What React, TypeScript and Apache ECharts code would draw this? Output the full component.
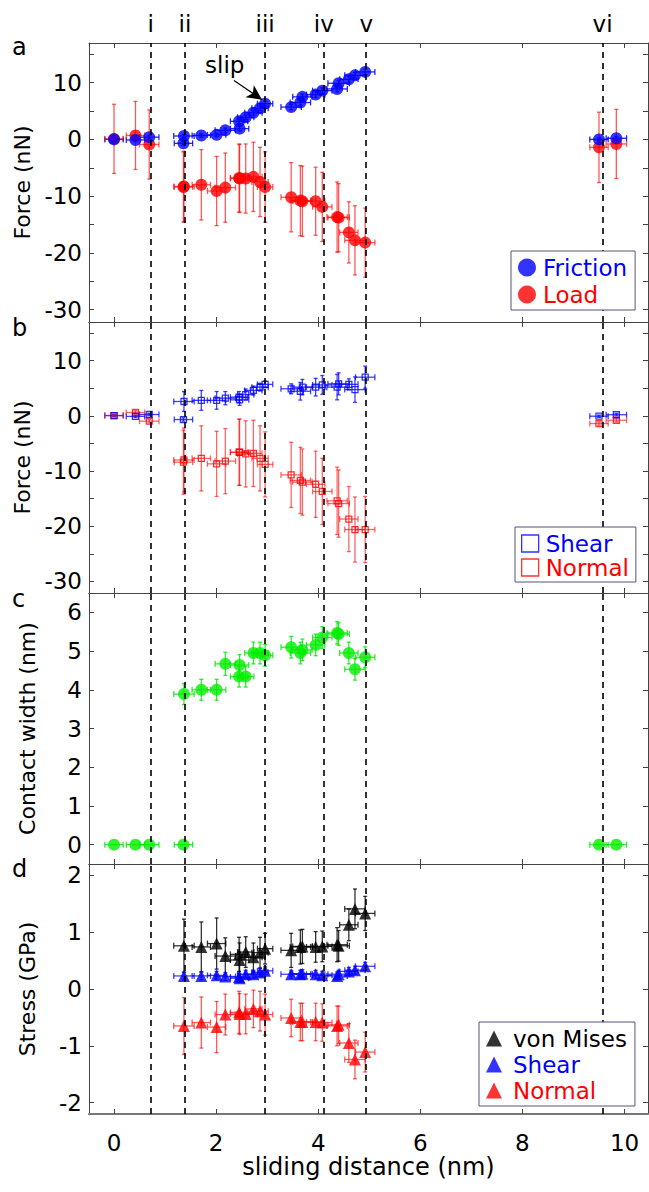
import React, { useEffect, useRef } from 'react';
import * as echarts from 'echarts';

// ---------------- data ----------------
const distance = [0, 0.42, 0.69, 1.36, 1.37, 1.71, 2.01, 2.18, 2.45, 2.46, 2.58, 2.73, 2.86, 2.96, 3.47, 3.65, 3.69, 3.95, 4.08, 4.37, 4.40, 4.60, 4.72, 4.92, 9.50, 9.84];
const distanceErr = [0.18, 0.18, 0.19, 0.18, 0.2, 0.18, 0.18, 0.2, 0.17, 0.18, 0.16, 0.17, 0.16, 0.15, 0.2, 0.2, 0.19, 0.18, 0.19, 0.2, 0.21, 0.18, 0.2, 0.19, 0.18, 0.2];

const friction = [0, -0.1, 0.4, -0.7, 0.6, 0.7, 0.8, 1.6, 3.2, 1.9, 3.9, 4.7, 5.5, 6.3, 5.7, 6.5, 7.5, 7.9, 8.6, 8.9, 9.9, 10.6, 11.3, 11.9, 0, 0.2];
const frictionErr = [0.3, 0.3, 0.3, 0.3, 0.3, 0.3, 0.3, 0.4, 0.4, 0.4, 0.4, 0.4, 0.4, 0.4, 0.5, 0.5, 0.5, 0.5, 0.5, 0.5, 0.5, 0.5, 0.5, 0.5, 0.3, 0.3];
const load = [0.1, 0.7, -0.9, -8.4, -8.3, -8.0, -9.1, -8.5, -6.8, -6.9, -6.9, -6.6, -7.5, -8.4, -10.2, -10.8, -10.9, -10.9, -11.9, -13.7, -13.8, -16.4, -17.8, -18.2, -1.4, -0.8];
const loadErr = [6.1, 6.0, 6.1, 6.2, 6.2, 6.2, 6.1, 6.1, 6.0, 6.0, 6.1, 6.1, 6.1, 6.2, 6.1, 6.2, 6.2, 6.0, 6.1, 6.2, 6.0, 5.4, 6.1, 6.1, 6.2, 6.1];

const shearForce = [0.05, -0.1, 0.24, -0.67, 2.6, 2.8, 2.8, 3.2, 3.4, 2.9, 3.85, 4.6, 5.2, 5.7, 4.9, 4.45, 5.2, 5.2, 5.6, 5.2, 5.8, 5.7, 4.75, 7.0, -0.07, 0.2];
const shearForceErr = [0.2, 0.2, 0.2, 0.3, 1.8, 1.8, 1.6, 1.2, 1.0, 1.0, 1.0, 0.8, 0.7, 0.6, 0.9, 1.6, 1.4, 1.6, 1.7, 2.3, 2.0, 1.0, 2.3, 2.0, 0.2, 0.2];
const normalForce = [0.05, 0.6, -0.97, -8.4, -8.0, -7.7, -8.7, -8.2, -6.6, -6.6, -6.9, -6.8, -7.7, -8.8, -10.7, -11.7, -12.0, -12.4, -13.7, -15.4, -15.9, -18.7, -20.6, -20.6, -1.4, -0.8];
const normalForceErr = [0.3, 0.3, 0.3, 5.8, 5.8, 5.9, 5.9, 5.9, 6.0, 6.0, 6.0, 6.0, 5.9, 5.9, 5.9, 6.0, 6.0, 6.0, 6.0, 6.1, 6.1, 5.9, 5.9, 6.0, 0.3, 0.3];

const contactWidth = [0, 0, 0, 0, 3.89, 4.0, 4.0, 4.67, 4.34, 4.64, 4.34, 4.95, 4.95, 4.89, 5.10, 4.95, 5.03, 5.16, 5.35, 5.47, 5.44, 4.95, 4.53, 4.84, 0, 0];
const contactWidthErr = [0, 0, 0, 0, 0.27, 0.27, 0.27, 0.3, 0.27, 0.27, 0.27, 0.28, 0.28, 0.28, 0.28, 0.28, 0.28, 0.28, 0.28, 0.29, 0.29, 0.28, 0.28, 0.27, 0, 0];

const stressDistance = [1.37, 1.71, 2.01, 2.18, 2.45, 2.46, 2.58, 2.73, 2.86, 2.96, 3.47, 3.65, 3.69, 3.95, 4.08, 4.37, 4.40, 4.60, 4.72, 4.92];
const stressDistanceErr = [0.2, 0.18, 0.18, 0.2, 0.17, 0.18, 0.16, 0.17, 0.16, 0.15, 0.2, 0.2, 0.19, 0.18, 0.19, 0.2, 0.21, 0.18, 0.2, 0.19];
const vonMises = [0.76, 0.74, 0.80, 0.58, 0.61, 0.51, 0.65, 0.56, 0.64, 0.71, 0.68, 0.74, 0.75, 0.74, 0.75, 0.78, 0.76, 1.13, 1.41, 1.33];
const vonMisesErr = [0.47, 0.44, 0.45, 0.32, 0.3, 0.3, 0.27, 0.25, 0.27, 0.27, 0.3, 0.3, 0.3, 0.27, 0.27, 0.3, 0.27, 0.28, 0.35, 0.3];
const shearStress = [0.23, 0.23, 0.24, 0.22, 0.21, 0.19, 0.26, 0.26, 0.29, 0.32, 0.26, 0.26, 0.27, 0.26, 0.24, 0.23, 0.26, 0.31, 0.33, 0.40];
const shearStressErr = [0.07, 0.07, 0.07, 0.07, 0.07, 0.07, 0.07, 0.07, 0.07, 0.07, 0.07, 0.07, 0.07, 0.07, 0.07, 0.07, 0.07, 0.07, 0.07, 0.07];
const normalStress = [-0.65, -0.59, -0.67, -0.45, -0.41, -0.44, -0.44, -0.35, -0.39, -0.45, -0.51, -0.58, -0.58, -0.58, -0.59, -0.65, -0.63, -0.95, -1.24, -1.11];
const normalStressErr = [0.5, 0.45, 0.45, 0.36, 0.37, 0.36, 0.35, 0.33, 0.35, 0.36, 0.33, 0.33, 0.33, 0.33, 0.33, 0.35, 0.33, 0.34, 0.34, 0.35];

const eventX = [0.72, 1.39, 2.96, 4.11, 4.94, 9.57];
const eventLabels = ['i', 'ii', 'iii', 'iv', 'v', 'vi'];
const slipArrow = [[2.35, 10.4], [2.9, 7.0]];
const slipText = [2.17, 13.1];

const xTicks = [0, 2, 4, 6, 8, 10];
const forceTicks = [-30, -25, -20, -15, -10, -5, 0, 5, 10, 15];
const forceLabels = [-30, -20, -10, 0, 10];
const widthTicks = [0, 1, 2, 3, 4, 5, 6];
const stressTicks = [-2, -1, 0, 1, 2];

// ---------------- layout ----------------
const FONT = 'DejaVu Sans';
const X_MIN = -0.49;
const X_MAX = 10.46;
const GRID_LEFT = 89;
const GRID_WIDTH = 559;
const panels = [
  { top: 43, height: 279, min: -32.2, max: 17, ticks: forceTicks, labels: forceLabels, name: 'Force (nN)', letter: 'a', letterTop: 35 },
  { top: 322, height: 271, min: -32.1, max: 17, ticks: forceTicks, labels: forceLabels, name: 'Force (nN)', letter: 'b', letterTop: 316 },
  { top: 593, height: 271, min: -0.5, max: 6.5, ticks: widthTicks, labels: widthTicks, name: 'Contact width (nm)', letter: 'c', letterTop: 587 },
  { top: 864, height: 250, min: -2.2, max: 2.2, ticks: stressTicks, labels: stressTicks, name: 'Stress (GPa)', letter: 'd', letterTop: 857 },
];

const BLUE = '#0000ff';
const RED = '#ff0000';
const GREEN = '#00ee00';
const BLACK = '#000000';
const AXIS = '#444444';

function errorSeries(xs, ys, xe, ye, gi, color) {
  return {
    type: 'custom',
    xAxisIndex: gi * 2,
    yAxisIndex: gi * 2,
    z: 1,
    silent: true,
    clip: true,
    encode: { x: 0, y: 1 },
    data: xs.map((x, k) => [x, ys[k], xe[k], ye[k]]),
    renderItem: (params, api) => {
      const x = api.value(0);
      const y = api.value(1);
      const dx = api.value(2);
      const dy = api.value(3);
      const style = { stroke: color, lineWidth: 1.3 };
      const children = [];
      const cap = 3;
      if (dx > 0) {
        const l = api.coord([x - dx, y]);
        const r = api.coord([x + dx, y]);
        children.push({ type: 'line', shape: { x1: l[0], y1: l[1], x2: r[0], y2: r[1] }, style });
        children.push({ type: 'line', shape: { x1: l[0], y1: l[1] - cap, x2: l[0], y2: l[1] + cap }, style });
        children.push({ type: 'line', shape: { x1: r[0], y1: r[1] - cap, x2: r[0], y2: r[1] + cap }, style });
      }
      if (dy > 0) {
        const t = api.coord([x, y + dy]);
        const b = api.coord([x, y - dy]);
        children.push({ type: 'line', shape: { x1: t[0], y1: t[1], x2: b[0], y2: b[1] }, style });
        children.push({ type: 'line', shape: { x1: t[0] - 2, y1: t[1], x2: t[0] + 2, y2: t[1] }, style });
        children.push({ type: 'line', shape: { x1: b[0] - 2, y1: b[1], x2: b[0] + 2, y2: b[1] }, style });
      }
      return { type: 'group', children };
    },
  };
}

function eventLines(withLabels, extra) {
  const data: any[] = eventX.map((x, k) => ({ xAxis: x, name: eventLabels[k] }));
  if (extra) data.push(...extra);
  return {
    silent: true,
    symbol: ['none', 'none'],
    lineStyle: { type: [6, 5], color: BLACK, width: 1.6, opacity: 1 },
    label: {
      show: withLabels,
      position: 'end',
      formatter: (p) => p.name,
      fontSize: 23,
      fontFamily: FONT,
      color: BLACK,
      distance: 8,
    },
    emphasis: { disabled: true },
    data,
  };
}

function scatterSeries(name, xs, ys, gi, symbol, size, itemStyle, extra?) {
  return Object.assign(
    {
      name,
      type: 'scatter',
      xAxisIndex: gi * 2,
      yAxisIndex: gi * 2,
      symbol,
      symbolSize: size,
      itemStyle,
      z: 3,
      emphasis: { disabled: true },
      data: xs.map((x, k) => [x, ys[k]]),
    },
    extra || {}
  );
}

function buildOption() {
  const xAxis: any[] = [];
  const yAxis: any[] = [];
  panels.forEach((p, i) => {
    const last = i === panels.length - 1;
    const xCommon = {
      type: 'value',
      gridIndex: i,
      min: X_MIN,
      max: X_MAX,
      splitLine: { show: false },
      axisLine: { show: true, onZero: false, lineStyle: { color: AXIS, width: 1 } },
      axisTick: { show: true, inside: true, length: 5, lineStyle: { color: AXIS, width: 1 }, customValues: xTicks },
      axisLabel: { show: false, customValues: xTicks },
    };
    xAxis.push(
      Object.assign({}, xCommon, {
        position: 'bottom',
        axisLine: last
          ? { show: true, onZero: false, lineStyle: { color: '#777777', width: 2 } }
          : xCommon.axisLine,
        axisLabel: last
          ? { show: true, customValues: xTicks, fontSize: 23, fontFamily: FONT, color: BLACK, margin: 17 }
          : { show: false, customValues: xTicks },
        name: last ? 'sliding distance (nm)' : '',
        nameLocation: 'middle',
        nameGap: 40,
        nameTextStyle: { fontSize: 24, fontFamily: FONT, color: BLACK },
      })
    );
    xAxis.push(Object.assign({}, xCommon, { position: 'top' }));

    const yCommon = {
      type: 'value',
      gridIndex: i,
      min: p.min,
      max: p.max,
      splitLine: { show: false },
      axisLine: { show: true, onZero: false, lineStyle: { color: AXIS, width: 1 } },
      axisTick: { show: true, inside: true, length: 5, lineStyle: { color: AXIS, width: 1 }, customValues: p.ticks },
      axisLabel: { show: false, customValues: p.labels },
    };
    yAxis.push(
      Object.assign({}, yCommon, {
        position: 'left',
        axisLabel: { show: true, customValues: p.labels, fontSize: 23, fontFamily: FONT, color: BLACK, margin: 7 },
        name: p.name,
        nameLocation: 'middle',
        nameGap: 51,
        nameTextStyle: { fontSize: 22, fontFamily: FONT, color: BLACK },
      })
    );
    yAxis.push(Object.assign({}, yCommon, { position: 'right' }));
  });

  const hollow = (c) => ({ color: 'rgba(0,0,0,0)', borderColor: c, borderWidth: 1.3 });

  const series = [
    // panel a
    errorSeries(distance, friction, distanceErr, frictionErr, 0, 'rgba(0,0,255,0.85)'),
    errorSeries(distance, load, distanceErr, loadErr, 0, 'rgba(255,0,0,0.65)'),
    scatterSeries('Load', distance, load, 0, 'circle', 12, { color: RED }),
    scatterSeries('Friction', distance, friction, 0, 'circle', 12, { color: BLUE }, {
      markLine: eventLines(true, [
        [
          { coord: slipArrow[0], symbol: 'none', lineStyle: { type: 'solid', width: 1.2, color: BLACK }, label: { show: false } },
          { coord: slipArrow[1], symbol: 'arrow', symbolSize: [11, 15], lineStyle: { type: 'solid', width: 1.2, color: BLACK }, label: { show: false } },
        ],
      ]),
      markPoint: {
        silent: true,
        symbol: 'circle',
        symbolSize: 1,
        itemStyle: { color: 'rgba(0,0,0,0)' },
        label: { show: true, position: 'inside', formatter: 'slip', fontSize: 23, fontFamily: FONT, color: BLACK },
        data: [{ coord: slipText }],
      },
    }),
    // panel b
    errorSeries(distance, shearForce, distanceErr, shearForceErr, 1, 'rgba(0,0,255,0.75)'),
    errorSeries(distance, normalForce, distanceErr, normalForceErr, 1, 'rgba(255,0,0,0.6)'),
    scatterSeries('Normal', distance, normalForce, 1, 'rect', 6, hollow(RED)),
    scatterSeries('Shear', distance, shearForce, 1, 'rect', 6, hollow(BLUE), { markLine: eventLines(false, null) }),
    // panel c
    errorSeries(distance, contactWidth, distanceErr, contactWidthErr, 2, 'rgba(0,230,0,0.8)'),
    scatterSeries('Contact width', distance, contactWidth, 2, 'circle', 12, { color: GREEN }, { markLine: eventLines(false, null) }),
    // panel d
    errorSeries(stressDistance, vonMises, stressDistanceErr, vonMisesErr, 3, 'rgba(0,0,0,0.8)'),
    errorSeries(stressDistance, shearStress, stressDistanceErr, shearStressErr, 3, 'rgba(0,0,255,0.75)'),
    errorSeries(stressDistance, normalStress, stressDistanceErr, normalStressErr, 3, 'rgba(255,0,0,0.65)'),
    scatterSeries('Normal stress', stressDistance, normalStress, 3, 'triangle', 12, { color: RED }),
    scatterSeries('Shear stress', stressDistance, shearStress, 3, 'triangle', 12, { color: BLUE }),
    scatterSeries('von Mises', stressDistance, vonMises, 3, 'triangle', 12, { color: BLACK }, { markLine: eventLines(false, null) }),
  ];

  const legendBase = {
    show: true,
    orient: 'vertical',
    selectedMode: false,
    backgroundColor: '#ffffff',
    borderColor: '#55557a',
    borderWidth: 1,
    borderRadius: 0,
    z: 20,
    textStyle: { fontSize: 23, fontFamily: FONT, padding: [0, 0, 0, 2] },
  };

  const legend = [
    Object.assign({}, legendBase, {
      left: 511,
      top: 251,
      padding: [5, 8, 4, 7],
      itemGap: 4,
      itemWidth: 18,
      itemHeight: 18,
      data: [
        { name: 'Friction', icon: 'circle', itemStyle: { color: BLUE }, textStyle: { color: BLUE } },
        { name: 'Load', icon: 'circle', itemStyle: { color: RED }, textStyle: { color: RED } },
      ],
    }),
    Object.assign({}, legendBase, {
      left: 515,
      top: 527,
      padding: [5, 7, 3, 6],
      itemGap: 1,
      itemWidth: 17,
      itemHeight: 17,
      data: [
        { name: 'Shear', icon: 'rect', itemStyle: hollow(BLUE), textStyle: { color: BLUE } },
        { name: 'Normal', icon: 'rect', itemStyle: hollow(RED), textStyle: { color: RED } },
      ],
    }),
    Object.assign({}, legendBase, {
      left: 479,
      top: 1022,
      padding: [5, 8, 4, 7],
      itemGap: 3,
      itemWidth: 16,
      itemHeight: 16,
      textStyle: { fontSize: 23, fontFamily: FONT, padding: [0, 0, 0, 6] },
      formatter: (name) => name.replace(' stress', ''),
      data: [
        { name: 'von Mises', icon: 'triangle', itemStyle: { color: BLACK }, textStyle: { color: BLACK } },
        { name: 'Shear stress', icon: 'triangle', itemStyle: { color: BLUE }, textStyle: { color: BLUE } },
        { name: 'Normal stress', icon: 'triangle', itemStyle: { color: RED }, textStyle: { color: RED } },
      ],
    }),
  ];

  const graphic = panels.map((p) => ({
    type: 'text',
    left: 12,
    top: p.letterTop,
    silent: true,
    style: { text: p.letter, fontSize: 24, fontFamily: FONT, fill: BLACK },
  }));

  return {
    animation: false,
    backgroundColor: '#ffffff',
    textStyle: { fontFamily: FONT },
    grid: panels.map((p) => ({
      left: GRID_LEFT,
      top: p.top,
      width: GRID_WIDTH,
      height: p.height,
      show: false,
      containLabel: false,
      outerBoundsMode: 'none',
    })),
    xAxis,
    yAxis,
    legend,
    graphic,
    series,
  };
}

export default function App() {
  const ref = useRef<HTMLDivElement>(null);
  useEffect(() => {
    if (!ref.current) return;
    const chart = echarts.init(ref.current, null, { renderer: 'svg' });
    chart.setOption(buildOption() as any);
    return () => chart.dispose();
  }, []);
  return (
    <div
      ref={ref}
      style={{ position: 'absolute', left: 0, top: 0, width: 649, height: 1192, background: '#fff' }}
    />
  );
}
